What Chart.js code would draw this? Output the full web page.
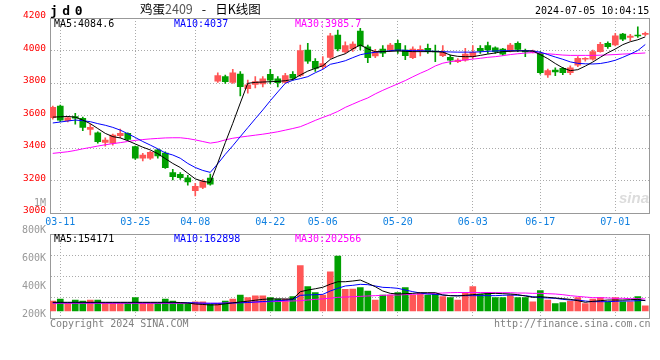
<!DOCTYPE html>
<html>
<head>
<meta charset="utf-8">
<script src="https://cdn.jsdelivr.net/npm/chart.js@4.4.1/dist/chart.umd.min.js"></script>
<style>
  html, body { margin: 0; padding: 0; background: #fff; }
  #wrap { position: relative; width: 660px; height: 360px; overflow: hidden; font-family: 'DejaVu Sans Mono', monospace; }
  canvas { position: absolute; left: 0; top: 0; }
  .t { position: absolute; white-space: nowrap; font-size: 10px; line-height: 10px; }
</style>
</head>
<body>
<div id="wrap">
  <canvas id="price" width="660" height="360"></canvas>
  <canvas id="vol" width="660" height="360"></canvas>
  <canvas id="volLab" width="660" height="360"></canvas>

  <div class="t" style="left:50px;top:4px;font-size:13px;line-height:13px;font-weight:bold;letter-spacing:4.5px;">jd0</div>
  <div class="t" style="left:140px;top:3px;font-size:12.5px;line-height:12px;font-family:'Noto Sans CJK SC',sans-serif;">鸡蛋<span style="color:#555">2409</span><span style="margin:0 9px">-</span>日K线图</div>
  <div class="t" style="left:535px;top:6px;">2024-07-05 10:04:15</div>

  <div class="t" style="left:54px;top:19px;color:#000;">MA5:4084.6</div>
  <div class="t" style="left:174px;top:19px;color:#0000ff;">MA10:4037</div>
  <div class="t" style="left:295px;top:19px;color:#ff00ff;">MA30:3985.7</div>

  <div class="t" style="left:54px;top:234px;color:#000;">MA5:154171</div>
  <div class="t" style="left:174px;top:234px;color:#0000ff;">MA10:162898</div>
  <div class="t" style="left:295px;top:234px;color:#ff00ff;">MA30:202566</div>

  <div class="t" style="left:619px;top:190px;font-family:'Liberation Sans',sans-serif;font-size:15px;line-height:15px;font-style:italic;font-weight:bold;color:#dcdcdc;">sina</div>

  <div class="t" style="left:50px;top:319px;color:#808080;">Copyright 2024 SINA.COM</div>
  <div class="t" style="left:494px;top:319px;color:#808080;">http://finance.sina.com.cn</div>
</div>

<script>
// trading days shown on the chart
const DATES = [
  '03-08', '03-11', '03-12', '03-13', '03-14', '03-15', '03-18', '03-19', '03-20', '03-21',
  '03-22', '03-25', '03-26', '03-27', '03-28', '03-29', '04-01', '04-02', '04-03', '04-08',
  '04-09', '04-10', '04-11', '04-12', '04-15', '04-16', '04-17', '04-18', '04-19', '04-22',
  '04-23', '04-24', '04-25', '04-26', '04-29', '04-30', '05-06', '05-07', '05-08', '05-09',
  '05-10', '05-13', '05-14', '05-15', '05-16', '05-17', '05-20', '05-21', '05-22', '05-23',
  '05-24', '05-27', '05-28', '05-29', '05-30', '05-31', '06-03', '06-04', '06-05', '06-06',
  '06-07', '06-11', '06-12', '06-13', '06-14', '06-17', '06-18', '06-19', '06-20', '06-21',
  '06-24', '06-25', '06-26', '06-27', '06-28', '07-01', '07-02', '07-03', '07-04', '07-05'
];
const TICK_DATES = ['03-11', '03-25', '04-08', '04-22', '05-06', '05-20', '06-03', '06-17', '07-01'];
const PRICE_TICKS = [3000, 3200, 3400, 3600, 3800, 4000, 4200];
const VOL_LABEL_VALUES = [200, 400, 600, 800, 1000];
const VOL_LABELS = ['200K', '400K', '600K', '800K', '1M'];

const OPEN = [
  3586, 3658, 3568, 3593, 3583, 3515, 3494, 3435, 3429, 3476,
  3490, 3408, 3337, 3338, 3388, 3369, 3248, 3238, 3217, 3137,
  3158, 3215, 3812, 3839, 3804, 3855, 3765, 3792, 3794, 3853,
  3825, 3804, 3853, 3847, 4003, 3933, 3900, 3958, 4095, 3991,
  4009, 4120, 4023, 3966, 4009, 4003, 4044, 4003, 3956, 3999,
  4013, 3997, 3968, 3958, 3931, 3941, 3962, 4013, 4030, 4017,
  4009, 3999, 4044, 3997, 3991, 3983, 3849, 3880, 3890, 3863,
  3909, 3946, 3946, 3993, 4044, 4034, 4101, 4081, 4095, 4099
];
const HIGH = [
  3658, 3664, 3592, 3613, 3590, 3546, 3500, 3463, 3486, 3517,
  3494, 3412, 3367, 3380, 3394, 3376, 3269, 3248, 3232, 3183,
  3205, 3240, 3863, 3849, 3884, 3870, 3818, 3839, 3839, 3884,
  3839, 3859, 3870, 4034, 4044, 3951, 3962, 4106, 4126, 4054,
  4054, 4137, 4034, 4007, 4030, 4044, 4064, 4030, 4023, 4028,
  4040, 4034, 4030, 3972, 3951, 4013, 4030, 4030, 4052, 4023,
  4013, 4044, 4054, 4009, 4003, 3993, 3886, 3894, 3896, 3906,
  3962, 3957, 4003, 4050, 4054, 4105, 4106, 4099, 4146, 4113
];
const LOW = [
  3578, 3562, 3560, 3546, 3506, 3480, 3430, 3412, 3418, 3463,
  3447, 3330, 3320, 3330, 3337, 3275, 3203, 3207, 3172, 3105,
  3150, 3172, 3804, 3798, 3798, 3720, 3737, 3769, 3776, 3796,
  3776, 3798, 3818, 3839, 3921, 3871, 3886, 3952, 3997, 3983,
  3995, 4003, 3925, 3956, 3962, 3993, 3982, 3944, 3950, 3966,
  3982, 3931, 3962, 3916, 3925, 3935, 3950, 3982, 3982, 3982,
  3970, 3991, 3993, 3962, 3985, 3855, 3835, 3845, 3851, 3851,
  3900, 3934, 3941, 3989, 4013, 4028, 4060, 4060, 4081, 4091
];
const CLOSE = [
  3650, 3572, 3586, 3583, 3527, 3527, 3439, 3449, 3480, 3490,
  3453, 3337, 3357, 3374, 3351, 3279, 3223, 3217, 3191, 3164,
  3193, 3177, 3845, 3808, 3863, 3777, 3788, 3808, 3825, 3818,
  3802, 3845, 3829, 3999, 3935, 3890, 3919, 4091, 4009, 4030,
  4040, 4028, 3956, 3993, 3983, 4034, 3999, 3968, 4009, 4007,
  3993, 3991, 3989, 3941, 3941, 3978, 3989, 3997, 4003, 3993,
  3978, 4034, 4007, 3991, 3997, 3863, 3876, 3868, 3863, 3894,
  3952, 3952, 3993, 4038, 4023, 4091, 4069, 4089, 4089, 4106
];

const MA5 = [
  3590, 3592, 3594, 3590, 3572, 3550, 3520, 3490, 3470, 3462,
  3445, 3425, 3405, 3388, 3365, 3335, 3305, 3280, 3245, 3210,
  3195, 3188, 3308, 3433, 3552, 3677, 3798, 3804, 3806, 3808,
  3810, 3814, 3822, 3849, 3873, 3890, 3906, 3945, 3965, 3980,
  4010, 4034, 4010, 3993, 3993, 3995, 3997, 3995, 3993, 3993,
  3993, 3993, 3990, 3972, 3964, 3962, 3962, 3970, 3978, 3985,
  3993, 3995, 3997, 3997, 3997, 3975, 3950, 3920, 3893, 3876,
  3882, 3904, 3929, 3958, 3986, 4009, 4036, 4054, 4066, 4084
];
const MA10 = [
  3554, 3560, 3566, 3572, 3568, 3562, 3550, 3540, 3527, 3510,
  3488, 3465, 3440, 3418, 3395, 3370, 3357, 3337, 3305, 3280,
  3262, 3250, 3303, 3361, 3414, 3470, 3525, 3580, 3634, 3691,
  3745, 3798, 3817, 3827, 3839, 3863, 3884, 3915, 3925, 3937,
  3956, 3974, 3983, 3989, 3993, 3999, 4003, 4001, 3999, 3999,
  3997, 3995, 3993, 3991, 3990, 3990, 3990, 3992, 3995, 3997,
  3999, 3999, 3999, 3999, 3997, 3990, 3975, 3960, 3946, 3930,
  3921, 3918, 3917, 3920, 3928, 3940, 3958, 3978, 4000, 4037
];
const MA30 = [
  3367, 3372, 3377, 3385, 3395, 3403, 3412, 3420, 3427, 3433,
  3440, 3447, 3452, 3456, 3459, 3462, 3463, 3463, 3458, 3450,
  3440, 3430, 3437, 3450, 3460, 3467, 3473, 3479, 3485, 3492,
  3500, 3510, 3520, 3531, 3550, 3570, 3588, 3605, 3625, 3650,
  3670, 3690, 3708, 3733, 3755, 3775, 3795, 3815, 3838, 3860,
  3880, 3905, 3922, 3931, 3937, 3942, 3947, 3952, 3958, 3962,
  3968, 3975, 3980, 3984, 3987, 3985, 3980, 3976, 3972, 3970,
  3970, 3970, 3970, 3971, 3973, 3975, 3978, 3980, 3982, 3985
];

// volume in thousands of lots
const VOLUME_K = [
  153, 184, 118, 168, 153, 168, 168, 118, 118, 118,
  118, 204, 118, 118, 118, 184, 153, 118, 118, 142,
  142, 103, 118, 153, 184, 245, 204, 234, 234, 204,
  184, 184, 219, 693, 372, 280, 245, 601, 842, 332,
  337, 357, 306, 168, 245, 245, 280, 357, 245, 271,
  245, 256, 219, 204, 168, 280, 372, 256, 280, 204,
  204, 245, 204, 204, 142, 311, 168, 112, 127, 153,
  204, 112, 184, 204, 142, 204, 142, 142, 219, 81
];
const VOL_MA5_K = [
  133, 133, 133, 133, 133, 133, 133, 133, 133, 133,
  133, 133, 133, 133, 133, 133, 133, 130, 122, 107,
  100, 92, 95, 110, 125, 138, 150, 165, 178, 185,
  185, 183, 183, 295, 321, 340, 363, 410, 448, 448,
  459, 474, 424, 372, 306, 270, 260, 265, 270, 280,
  280, 280, 245, 235, 230, 240, 250, 260, 265, 270,
  265, 260, 250, 230, 209, 219, 209, 199, 189, 178,
  158, 133, 148, 158, 168, 168, 168, 173, 178, 158
];
const VOL_MA10_K = [
  127, 127, 127, 127, 127, 127, 127, 127, 127, 127,
  127, 127, 127, 127, 127, 127, 127, 127, 127, 125,
  120, 118, 118, 120, 122, 125, 130, 138, 145, 150,
  158, 165, 175, 240, 245, 250, 255, 306, 347, 383,
  393, 408, 403, 383, 362, 357, 347, 321, 296, 275,
  260, 255, 245, 235, 235, 235, 235, 235, 235, 235,
  240, 245, 240, 235, 219, 204, 199, 194, 178, 168,
  168, 153, 143, 143, 143, 148, 153, 153, 158, 163
];
const VOL_MA30_K = [
  118, 118, 118, 118, 118, 118, 118, 118, 118, 118,
  118, 118, 118, 118, 118, 118, 118, 118, 118, 118,
  118, 118, 118, 122, 126, 128, 131, 134, 138, 143,
  146, 150, 154, 158, 168, 178, 186, 195, 209, 214,
  219, 224, 230, 235, 240, 245, 245, 250, 255, 260,
  265, 270, 275, 280, 283, 283, 283, 283, 283, 280,
  280, 280, 275, 275, 270, 270, 265, 260, 250, 235,
  224, 214, 204, 204, 199, 194, 194, 189, 189, 184
];

const MONO = "'DejaVu Sans Mono', monospace";
const UP = '#ff5656';
const DOWN = '#00a000';
const GRID = '#aaaaaa';
const FRAME = '#999999';

const candleColors = CLOSE.map((c, i) => c >= OPEN[i] ? UP : DOWN);
const pts = arr => arr.map((v, i) => ({ x: i, y: v }));

function dateAxis(showLabels) {
  return {
    type: 'linear',
    min: -0.37,
    max: 79.56,
    offset: false,
    afterBuildTicks: s => { s.ticks = TICK_DATES.map(d => ({ value: DATES.indexOf(d) })); },
    ticks: {
      display: showLabels, autoSkip: false, maxRotation: 0, padding: 3,
      color: '#1080e0', font: { family: MONO, size: 10 },
      callback: v => DATES[v]
    },
    grid: { color: GRID, drawTicks: false, offset: false },
    border: { color: FRAME, dash: [1, 2] },
    afterFit: s => { s.height = showLabels ? 20 : 0; }
  };
}
// plain axes that only draw the top and right frame lines
const frameTop = () => ({
  axis: 'x', type: 'linear', position: 'top', min: 0, max: 1,
  ticks: { display: false }, grid: { display: false, drawTicks: false },
  border: { color: FRAME }, afterFit: s => { s.height = 0; }
});
const frameRight = () => ({
  axis: 'y', type: 'linear', position: 'right', min: 0, max: 1,
  ticks: { display: false }, grid: { display: false, drawTicks: false },
  border: { color: FRAME }, afterFit: s => { s.width = 0; }
});
const maLine = (data, color) => ({
  type: 'line', data: pts(data), borderColor: color, borderWidth: 1,
  pointRadius: 0, tension: 0, order: 0
});
const baseOptions = {
  responsive: false, animation: false, devicePixelRatio: 1,
  plugins: { legend: { display: false }, tooltip: { enabled: false } }
};

// price panel
new Chart(document.getElementById('price'), {
  type: 'line',
  data: {
    datasets: [
      maLine(MA5, '#000000'),
      maLine(MA10, '#0000ff'),
      maLine(MA30, '#ff00ff'),
      {
        type: 'bar', data: OPEN.map((o, i) => ({ x: i, y: [o, CLOSE[i]] })),
        backgroundColor: candleColors, borderWidth: 0, barThickness: 6,
        minBarLength: 1, grouped: false, order: 1
      },
      {
        type: 'bar', data: LOW.map((l, i) => ({ x: i, y: [l, HIGH[i]] })),
        backgroundColor: candleColors, borderWidth: 0, barThickness: 1,
        grouped: false, order: 2
      }
    ]
  },
  options: {
    ...baseOptions,
    layout: { padding: { left: 0, top: 18, right: 10.5, bottom: 127 } },
    scales: {
      x: dateAxis(true),
      y: {
        type: 'linear', min: 3000, max: 4200,
        afterBuildTicks: s => { s.ticks = PRICE_TICKS.map(v => ({ value: v })); },
        ticks: {
          color: '#ff0000', font: { family: MONO, size: 9.5 }, padding: 4, labelOffset: -2,
          callback: v => String(v)
        },
        grid: { color: GRID, drawTicks: false },
        border: { color: FRAME, dash: [1, 2] },
        afterFit: s => { s.width = 50; }
      },
      xTop: frameTop(),
      yRight: frameRight()
    }
  }
});

// volume panel
new Chart(document.getElementById('vol'), {
  type: 'line',
  data: {
    datasets: [
      maLine(VOL_MA5_K, '#000000'),
      maLine(VOL_MA10_K, '#0000ff'),
      maLine(VOL_MA30_K, '#ff00ff'),
      {
        type: 'bar', data: pts(VOLUME_K), backgroundColor: candleColors,
        borderWidth: 0, barThickness: 6, grouped: false, order: 1
      }
    ]
  },
  options: {
    ...baseOptions,
    layout: { padding: { left: 0, top: 234, right: 10.5, bottom: 42 } },
    scales: {
      x: dateAxis(false),
      y: {
        type: 'linear', min: -107, max: 1178,
        afterBuildTicks: s => {
          const step = (s.max - s.min) / 4;
          s.ticks = [0, 1, 2, 3, 4].map(k => ({ value: s.min + k * step }));
        },
        ticks: { display: false },
        grid: { color: GRID, drawTicks: false },
        border: { color: FRAME, dash: [1, 2] },
        afterFit: s => { s.width = 50; }
      },
      xTop: frameTop(),
      yRight: frameRight()
    }
  }
});

// volume axis labels (drawn on their own, like the original)
new Chart(document.getElementById('volLab'), {
  type: 'line',
  data: { datasets: [] },
  options: {
    ...baseOptions,
    layout: { padding: { left: 0, top: 203, right: 10.5, bottom: 46 } },
    scales: {
      x: { type: 'linear', display: false, min: 0, max: 1 },
      y: {
        type: 'linear', min: 200, max: 1000,
        afterBuildTicks: s => { s.ticks = VOL_LABEL_VALUES.map(v => ({ value: v })); },
        ticks: {
          color: '#999999', font: { family: MONO, size: 10 }, padding: 4,
          callback: v => VOL_LABELS[VOL_LABEL_VALUES.indexOf(v)]
        },
        grid: { display: false, drawTicks: false },
        border: { display: false },
        afterFit: s => { s.width = 50; }
      }
    }
  }
});
</script>
</body>
</html>
